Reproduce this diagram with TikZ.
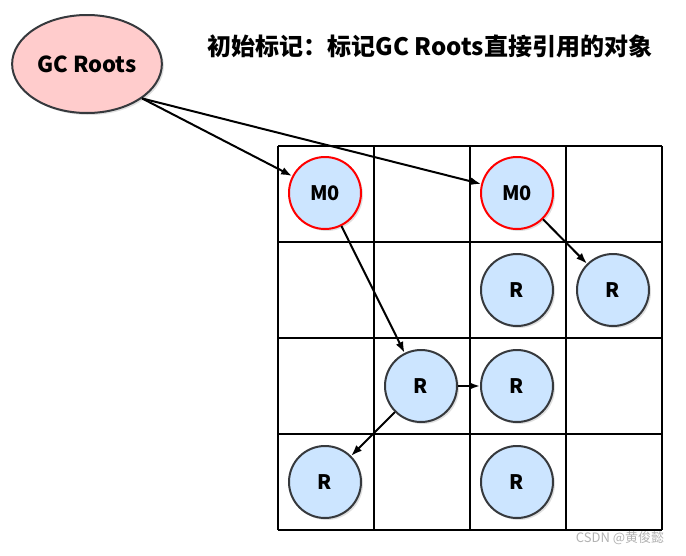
\documentclass[tikz,border=0pt]{standalone}
\usepackage{fontspec}
\setmainfont{Noto Sans CJK SC}
\usetikzlibrary{shadows,shapes.geometric,arrows.meta}
\definecolor{objfill}{HTML}{CCE5FF}
\definecolor{rootfill}{HTML}{FFCCCC}
\definecolor{edgegray}{HTML}{36393D}
\tikzset{
    obj/.style={circle, draw=edgegray, fill=objfill, line width=2pt, minimum size=72pt, inner sep=0pt,
        font=\fontsize{20}{20}\selectfont\bfseries, drop shadow={opacity=0.25, shadow xshift=2pt, shadow yshift=-2pt}},
    marked/.style={obj, draw=red},
    link/.style={->, line width=2pt}
}
\begin{document}
\begin{tikzpicture}[
                        x=1pt, y=-1pt,
                        >={Latex[length=11pt,width=8pt]}
                    ]
                    \useasboundingbox (0,0) rectangle (686,555);
                    % Grid
                    \draw [line width=2.2pt, shift={(278,146)}, step=96pt] (0,0) grid (384,384);
                
                    % Roots and title
                    \node [ellipse, draw=edgegray, fill=rootfill, line width=2pt, minimum width=146pt, minimum height=98pt,
                        font=\fontsize{22}{22}\selectfont\bfseries, drop shadow={opacity=0.25, shadow xshift=2pt, shadow yshift=-2pt}] (roots) at (87,64) {GC Roots};
                    \node [font=\fontsize{24}{24}\selectfont\bfseries] (title) at (430,46) {初始标记：标记GC Roots直接引用的对象};
                
                    % Blocks
                    \node [marked] (m0a) at (325,193) {M0};
                    \node [marked] (m0b) at (517,193) {M0};
                    \node [obj] (ra) at (517,290) {R};
                    \node [obj] (rb) at (613,290) {R};
                    \node [obj] (rc) at (421,386) {R};
                    \node [obj] (rd) at (517,386) {R};
                    \node [obj] (re) at (325,482) {R};
                    \node [obj] (rf) at (517,482) {R};
                
                    % Connections
                    \draw [link] (roots.-32) -- (m0a);
                    \draw [link] (roots.-32) -- (m0b);
                    \draw [link] (m0a) -- (rc);
                    \draw [link] (m0b) -- (rb);
                    \draw [link] (rc) -- (rd);
                    \draw [link] (rc) -- (re);
                
                    \node [font=\fontsize{13}{13}\selectfont, text=gray!60] (mark) at (620,538) {CSDN @黄俊懿};
                \end{tikzpicture}
\end{document}
